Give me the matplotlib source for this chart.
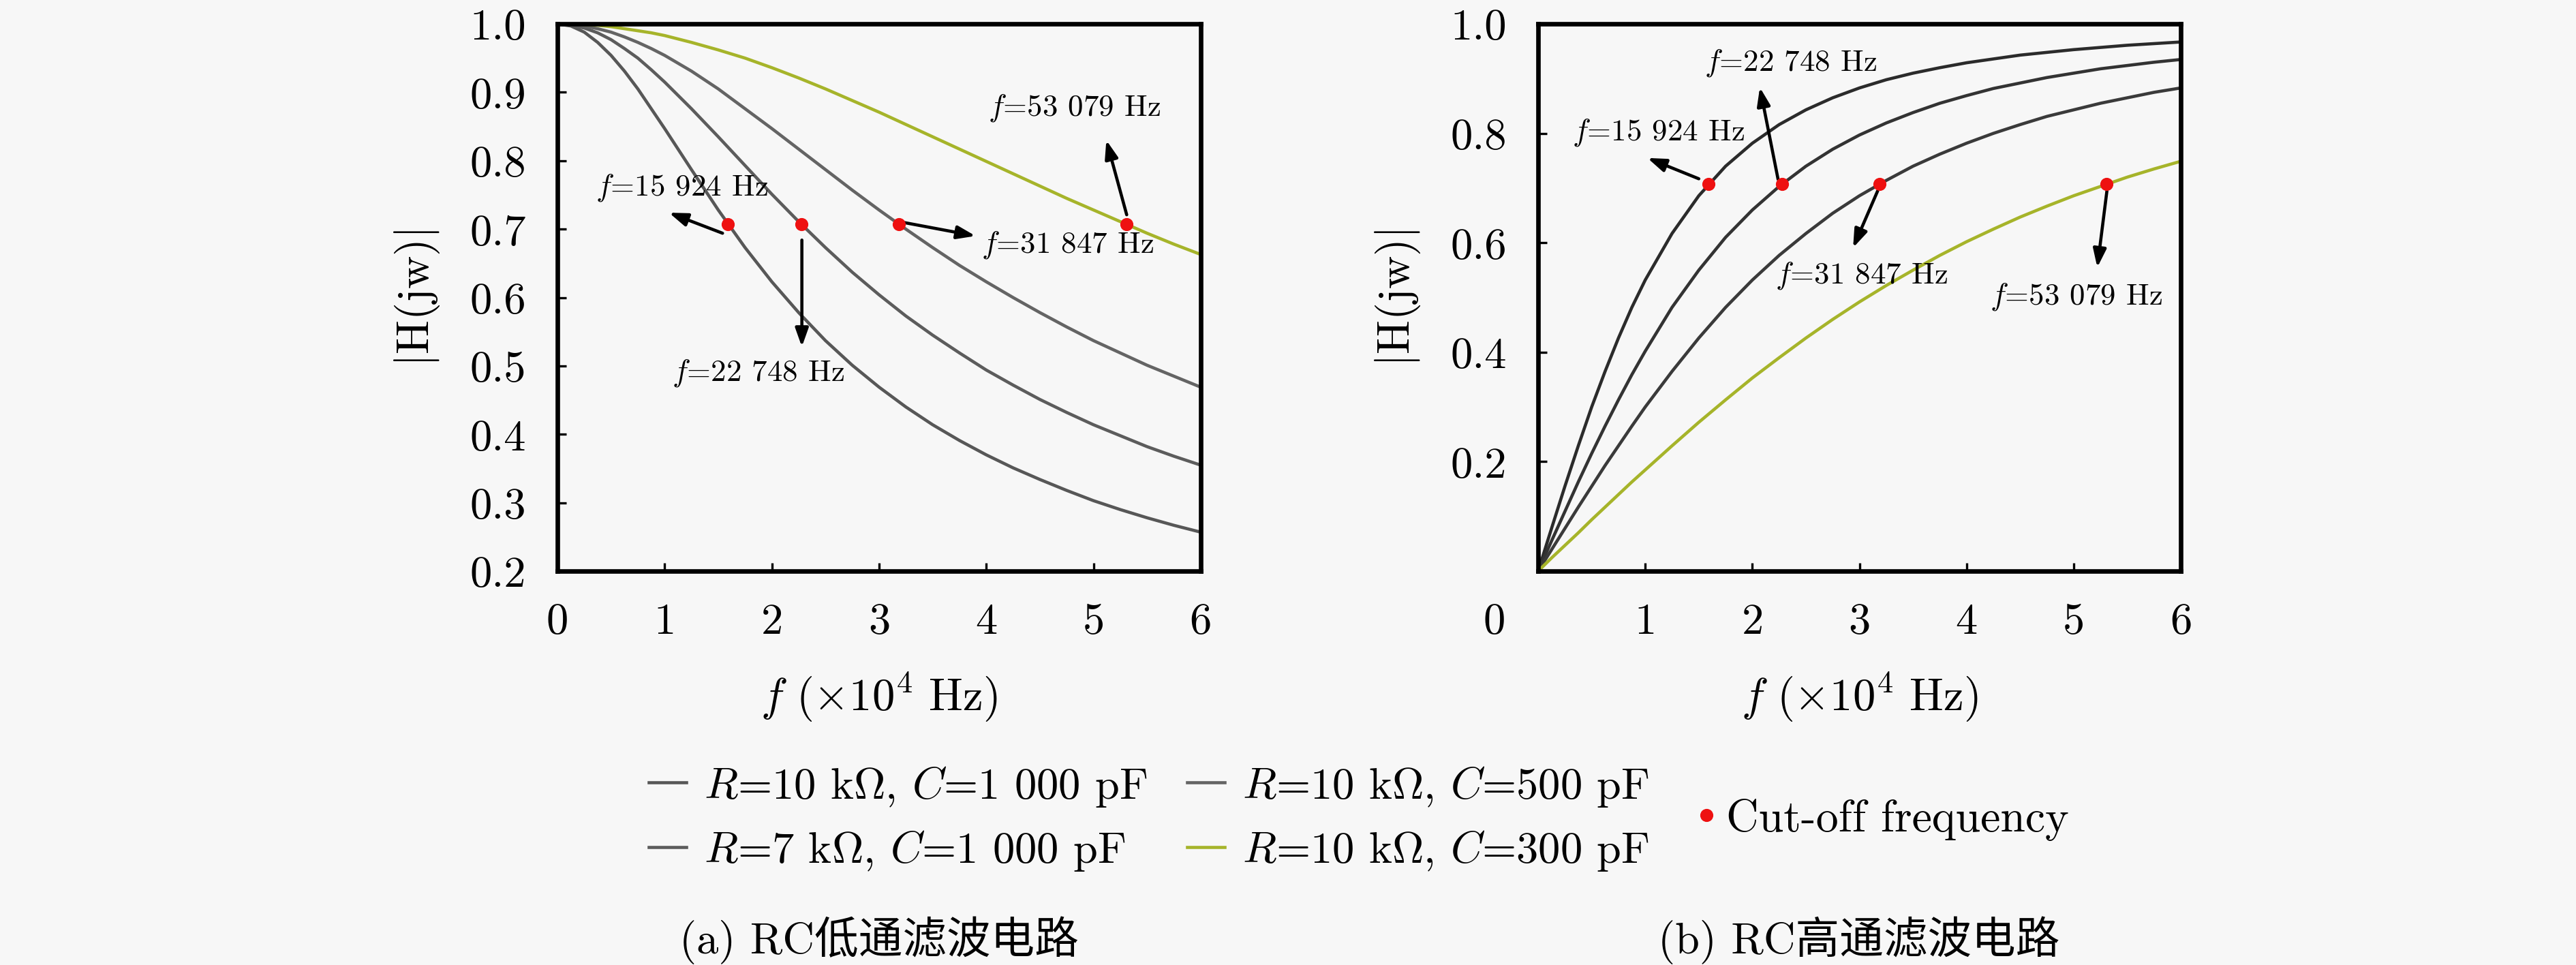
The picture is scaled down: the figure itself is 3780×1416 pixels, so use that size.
import matplotlib
matplotlib.use("Agg")
import matplotlib.pyplot as plt
from matplotlib.lines import Line2D

# frequency axis in units of 1e4 Hz
f_x = [0, 0.125, 0.25, 0.375, 0.5, 0.625, 0.75, 0.875, 1.0, 1.25, 1.5, 1.75, 2.0,
       2.25, 2.5, 2.75, 3.0, 3.25, 3.5, 3.75, 4.0, 4.25, 4.5, 4.75, 5.0, 5.25,
       5.5, 5.75, 6.0]

# low-pass |H(jw)|
low_a = [1.000, 0.997, 0.988, 0.973, 0.954, 0.931, 0.905, 0.876, 0.847, 0.787,
         0.728, 0.673, 0.623, 0.578, 0.537, 0.501, 0.469, 0.440, 0.414, 0.391,
         0.370, 0.351, 0.334, 0.318, 0.303, 0.290, 0.278, 0.267, 0.257]
low_b = [1.000, 0.998, 0.994, 0.987, 0.977, 0.964, 0.950, 0.933, 0.915, 0.876,
         0.835, 0.793, 0.751, 0.711, 0.673, 0.637, 0.604, 0.573, 0.545, 0.519,
         0.494, 0.472, 0.451, 0.432, 0.414, 0.398, 0.382, 0.368, 0.355]
low_c = [1.000, 0.999, 0.997, 0.993, 0.988, 0.981, 0.973, 0.964, 0.954, 0.931,
         0.905, 0.876, 0.847, 0.817, 0.787, 0.757, 0.728, 0.700, 0.673, 0.647,
         0.623, 0.600, 0.578, 0.557, 0.537, 0.519, 0.501, 0.485, 0.469]
low_d = [1.000, 1.000, 0.999, 0.998, 0.996, 0.993, 0.990, 0.987, 0.983, 0.973,
         0.962, 0.950, 0.936, 0.921, 0.905, 0.888, 0.871, 0.853, 0.835, 0.817,
         0.799, 0.781, 0.763, 0.745, 0.728, 0.711, 0.694, 0.678, 0.663]

# high-pass |H(jw)|
high_a = [0.000, 0.078, 0.155, 0.229, 0.300, 0.365, 0.426, 0.482, 0.532, 0.617,
          0.686, 0.740, 0.782, 0.816, 0.843, 0.865, 0.883, 0.898, 0.910, 0.920,
          0.929, 0.936, 0.943, 0.948, 0.953, 0.957, 0.961, 0.964, 0.967]
high_b = [0.000, 0.055, 0.109, 0.163, 0.215, 0.265, 0.313, 0.359, 0.402, 0.482,
          0.550, 0.610, 0.660, 0.703, 0.740, 0.771, 0.797, 0.819, 0.838, 0.855,
          0.869, 0.882, 0.892, 0.902, 0.910, 0.918, 0.924, 0.930, 0.935]
high_c = [0.000, 0.039, 0.078, 0.117, 0.155, 0.193, 0.229, 0.265, 0.300, 0.365,
          0.426, 0.482, 0.532, 0.577, 0.617, 0.654, 0.686, 0.714, 0.740, 0.762,
          0.782, 0.800, 0.816, 0.831, 0.843, 0.855, 0.865, 0.875, 0.883]
high_d = [0.000, 0.024, 0.047, 0.070, 0.094, 0.117, 0.140, 0.163, 0.185, 0.229,
          0.272, 0.313, 0.353, 0.390, 0.426, 0.460, 0.492, 0.522, 0.550, 0.577,
          0.602, 0.625, 0.647, 0.667, 0.686, 0.703, 0.720, 0.735, 0.749]

cutoff_f = [1.5924, 2.2748, 3.1847, 5.3079]
cutoff_h = [0.707, 0.707, 0.707, 0.707]
cutoff_labels = ["$f$=15 924 Hz", "$f$=22 748 Hz", "$f$=31 847 Hz", "$f$=53 079 Hz"]

series_labels = [r"$R$=10 k$\Omega$, $C$=1 000 pF",
                 r"$R$=7 k$\Omega$, $C$=1 000 pF",
                 r"$R$=10 k$\Omega$, $C$=500 pF",
                 r"$R$=10 k$\Omega$, $C$=300 pF"]

x_ticks = [0, 1, 2, 3, 4, 5, 6]
x_ticks_hp = [1, 2, 3, 4, 5, 6]
low_yticks = [0.2, 0.3, 0.4, 0.5, 0.6, 0.7, 0.8, 0.9, 1.0]
high_yticks = [0.2, 0.4, 0.6, 0.8, 1.0]
captions = ["(a) RC低通滤波电路", "(b) RC高通滤波电路"]

plt.rcParams["font.family"] = ["cmr10", "Noto Sans CJK SC"]
plt.rcParams["mathtext.fontset"] = "cm"
plt.rcParams["axes.formatter.use_mathtext"] = True

BG = "#f7f7f7"
YEL = "#a6b42a"
low_colors = ["#575757", "#5c5c5c", "#646464", YEL]
high_colors = ["#2b2b2b", "#333333", "#3a3a3a", YEL]
RED = "#ee1111"

fig = plt.figure(figsize=(12.6, 4.723), dpi=300, facecolor=BG)
ax1 = fig.add_axes([0.2164, 0.4079, 0.2497, 0.5667], facecolor=BG)
ax2 = fig.add_axes([0.5971, 0.4079, 0.2495, 0.5667], facecolor=BG)

lines = []
for ys, c in zip([low_a, low_b, low_c, low_d], low_colors):
    lines.append(ax1.plot(f_x, ys, color=c, lw=1.1)[0])
for ys, c in zip([high_a, high_b, high_c, high_d], high_colors):
    ax2.plot(f_x, ys, color=c, lw=1.1)

for ax in (ax1, ax2):
    ax.plot(cutoff_f, cutoff_h, "o", color=RED, ms=3.6, zorder=5)
    ax.set_xlim(0, 6)
    for s in ax.spines.values():
        s.set_linewidth(1.6)
    ax.tick_params(direction="in", length=3, width=0.8, labelsize=15.5,
                   top=False, right=False, pad=11)
    ax.set_xlabel(r"$f\ (\times10^4\ \mathrm{Hz})$", fontsize=16, labelpad=10)
    ax.set_ylabel(r"$|\mathrm{H(jw)}|$", fontsize=16, labelpad=10)

ax1.set_ylim(0.2, 1.0)
ax1.set_xticks(x_ticks, labels=[str(t) for t in x_ticks])
ax1.set_yticks(low_yticks, labels=["%.1f" % t for t in low_yticks])

ax2.set_ylim(0, 1.0)
ax2.set_xticks(x_ticks_hp, labels=[str(t) for t in x_ticks_hp])
ax2.set_yticks(high_yticks, labels=["%.1f" % t for t in high_yticks])
# corner origin label of the high-pass plot
ax2.annotate("0", xy=(0, 0), xycoords="data", xytext=(-15.5, -11),
             textcoords="offset points", ha="center", va="top", fontsize=15.5)

arrow_kw = dict(arrowstyle="-|>,head_length=0.45,head_width=0.16", color="black",
                lw=1.1, mutation_scale=12, shrinkA=0, shrinkB=0)

# (tail, head, text centre) for each cut-off annotation
low_notes = [((1.54, 0.694), (1.04, 0.724), (1.16, 0.761)),
             ((2.28, 0.684), (2.28, 0.528), (1.87, 0.490)),
             ((3.22, 0.710), (3.90, 0.690), (4.76, 0.678)),
             ((5.31, 0.721), (5.12, 0.830), (4.82, 0.878))]
high_notes = [((1.50, 0.717), (1.02, 0.755), (1.12, 0.802)),
              ((2.24, 0.716), (2.07, 0.884), (2.36, 0.930)),
              ((3.17, 0.695), (2.94, 0.591), (3.02, 0.541)),
              ((5.31, 0.695), (5.22, 0.555), (5.02, 0.502))]

for ax, notes in ((ax1, low_notes), (ax2, high_notes)):
    for (tail, head, txt), lab in zip(notes, cutoff_labels):
        ax.annotate("", xy=head, xytext=tail, arrowprops=arrow_kw)
        ax.text(txt[0], txt[1], lab, ha="center", va="center", fontsize=10.8)

fig.legend(handles=lines, labels=series_labels, ncol=2, loc="center",
           bbox_to_anchor=(0.446, 0.152), frameon=False, fontsize=15.5,
           handlelength=0.85, handletextpad=0.4, columnspacing=0.9,
           labelspacing=0.45, borderpad=0, borderaxespad=0)

dot = Line2D([], [], marker="o", ls="none", color=RED, ms=3.6)
fig.legend(handles=[dot], labels=["Cut-off frequency"], loc="center left",
           bbox_to_anchor=(0.658, 0.151), frameon=False, fontsize=15.8,
           handlelength=0.5, handletextpad=0.2, borderpad=0, borderaxespad=0)

fig.text(0.3413, 0.026, captions[0], ha="center", va="center", fontsize=15.5)
fig.text(0.7217, 0.026, captions[1], ha="center", va="center", fontsize=15.5)

fig.savefig("out.png", dpi=300, facecolor=BG)
